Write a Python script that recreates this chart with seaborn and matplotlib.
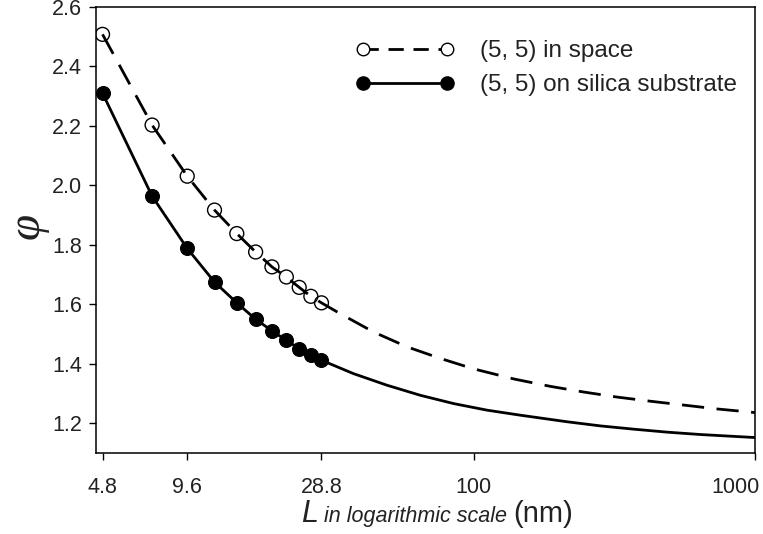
import matplotlib
matplotlib.use("Agg")
import matplotlib.pyplot as plt
import matplotlib.transforms as mtransforms
import seaborn as sns
import pandas as pd
from matplotlib.lines import Line2D
from matplotlib.offsetbox import TextArea, HPacker, AnchoredOffsetbox

# ---- data ----
L_markers = [4.8, 7.2, 9.6, 12.0, 14.4, 16.8, 19.2, 21.6, 24.0, 26.4, 28.8]
phi_space = [2.508, 2.203, 2.031, 1.917, 1.838, 1.776, 1.726, 1.692, 1.657, 1.627, 1.605]
phi_silica = [2.310, 1.964, 1.788, 1.675, 1.605, 1.550, 1.511, 1.479, 1.451, 1.429, 1.412]

# continuation of the curves beyond the last marker
L_tail_space = [33.5, 44.1, 58.0, 76.2, 100, 139, 187.6, 246.5, 324, 426, 560, 736, 1000]
phi_tail_space = [1.569, 1.507, 1.457, 1.418, 1.383, 1.349, 1.324, 1.305, 1.288, 1.274, 1.261, 1.248, 1.236]
L_tail_silica = [37.4, 49.2, 64.7, 85.1, 111.7, 146.9, 215, 283, 372, 489, 643, 1000]
phi_tail_silica = [1.367, 1.328, 1.294, 1.266, 1.244, 1.227, 1.205, 1.191, 1.180, 1.170, 1.162, 1.152]

xticks = [4.8, 9.6, 28.8, 100, 1000]
xtick_labels = ["4.8", "9.6", "28.8", "100", "1000"]
yticks = [1.2, 1.4, 1.6, 1.8, 2.0, 2.2, 2.4, 2.6]
labels = ["(5, 5) in space", "(5, 5) on silica substrate"]

sns.set_style("white")
plt.rcParams["font.family"] = ["Liberation Sans", "DejaVu Sans"]

TXT = "#222222"
fig = plt.figure(figsize=(7.63, 5.34), dpi=100)
ax = fig.add_axes([96 / 763, 1 - 453 / 534, (755 - 96) / 763, (453 - 7) / 534])

line_space = pd.DataFrame({"L": L_markers + L_tail_space, "phi": phi_space + phi_tail_space})
line_silica = pd.DataFrame({"L": L_markers + L_tail_silica, "phi": phi_silica + phi_tail_silica})
pts_space = pd.DataFrame({"L": L_markers, "phi": phi_space})
pts_silica = pd.DataFrame({"L": L_markers, "phi": phi_silica})

sns.lineplot(data=line_space, x="L", y="phi", ax=ax, color="black", lw=2.0,
             sort=True, estimator=None)
ax.lines[-1].set_dashes((8, 4.5))
sns.lineplot(data=line_silica, x="L", y="phi", ax=ax, color="black", lw=2.0,
             sort=True, estimator=None)
sns.scatterplot(data=pts_space, x="L", y="phi", ax=ax, marker="o", s=100,
                facecolor="none", edgecolor="black", linewidth=1.0, zorder=3)
sns.scatterplot(data=pts_silica, x="L", y="phi", ax=ax, marker="o", s=100,
                color="black", edgecolor="black", linewidth=0.8, zorder=3)

ax.set_xscale("log")
ax.set_xlim(4.55, 1000)
ax.set_ylim(1.1, 2.6)
ax.set_xticks(xticks)
ax.set_xticklabels(xtick_labels)
ax.xaxis.set_minor_locator(matplotlib.ticker.NullLocator())
ax.set_yticks(yticks)
ax.set_yticklabels([f"{v:.1f}" for v in yticks])
ax.tick_params(axis="both", which="major", direction="out", length=5, width=1,
               colors="black", labelsize=15.5, labelcolor=TXT,
               bottom=True, left=True, top=False, right=False)
ax.tick_params(axis="x", pad=12)
ax.tick_params(axis="y", pad=5)
# last x label sits flush right like the reference
last = ax.get_xticklabels()[-1]
last.set_horizontalalignment("right")
last.set_transform(last.get_transform() + mtransforms.ScaledTranslation(5 / 100, 0, fig.dpi_scale_trans))
for sp in ax.spines.values():
    sp.set_color("black")
    sp.set_linewidth(1.1)
ax.set_xlabel("")
ax.set_ylabel("")

# y label: italic phi
fig.text(27 / 763, 1 - 226 / 534, "φ", fontsize=34, fontstyle="italic",
         family=["Liberation Serif", "DejaVu Serif"], rotation=90,
         ha="center", va="center", color=TXT)

# x label composed of parts
parts = [
    TextArea("L", textprops=dict(fontsize=22, fontstyle="italic", color=TXT)),
    TextArea(" in logarithmic scale ", textprops=dict(fontsize=15.5, fontstyle="italic", color=TXT)),
    TextArea("(nm)", textprops=dict(fontsize=21, color=TXT)),
]
box = HPacker(children=parts, align="baseline", pad=0, sep=0)
anch = AnchoredOffsetbox(loc="center", child=box, pad=0, frameon=False,
                         bbox_to_anchor=(437 / 763, 1 - 514 / 534),
                         bbox_transform=fig.transFigure, borderpad=0)
fig.add_artist(anch)

# legend
handles = [
    Line2D([], [], color="black", lw=2.0, dashes=(5.5, 3.5), marker="o", markersize=9,
           markerfacecolor="white", markeredgecolor="black", markeredgewidth=1.0),
    Line2D([], [], color="black", lw=2.0, marker="o", markersize=9.5,
           markerfacecolor="black", markeredgecolor="black"),
]
ax.legend(handles, labels, loc="upper left", bbox_to_anchor=(356 / 763, 1 - 40 / 534),
          bbox_transform=fig.transFigure, frameon=False, numpoints=2,
          handlelength=4.06, handletextpad=1.06, fontsize=17.5, labelspacing=0.5,
          borderpad=0, borderaxespad=0, labelcolor=TXT)

fig.savefig("out.png", dpi=100)
